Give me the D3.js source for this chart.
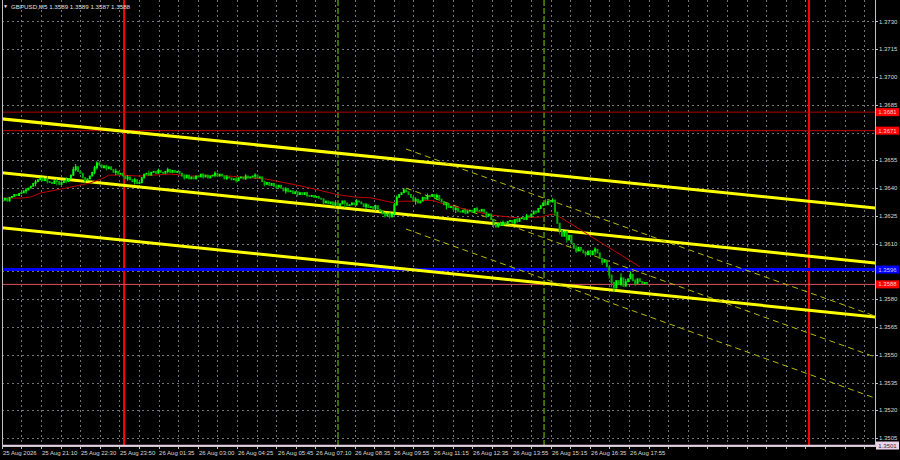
<!DOCTYPE html>
<html><head><meta charset="utf-8">
<script src="https://cdn.jsdelivr.net/npm/d3@7"></script>
<style>html,body{margin:0;padding:0;background:#000;} svg{display:block}</style>
</head><body><svg id="c" width="900" height="460"></svg>
<script>
// ---------------- DATA ----------------
const symbol = "GBPUSD,M5";
const lastOHLC = [1.3589, 1.3589, 1.3587, 1.3588];
const priceTicks = [1.3730,1.3715,1.3700,1.3685,1.3670,1.3655,1.3640,1.3625,1.3610,1.3595,1.3580,1.3565,1.3550,1.3535,1.3520,1.3505];
const timeLabels = ["25 Aug 2026","25 Aug 21:10","25 Aug 22:30","25 Aug 23:50","26 Aug 01:35","26 Aug 03:00","26 Aug 04:25","26 Aug 05:45","26 Aug 07:10","26 Aug 08:35","26 Aug 09:55","26 Aug 11:15","26 Aug 12:35","26 Aug 13:55","26 Aug 15:15","26 Aug 16:35","26 Aug 17:55"];
const timeLabelBars = [0,16.3,32.8,49.3,65.9,82.8,99.3,116.3,132.4,148.9,165.4,182.3,198.9,215.8,232.3,248.9,265.4];
// closes in pips above 1.3500, one per M5 bar
const firstOpen = 133;
const closes = [
133.5,134.5,133,135, 135.5,136.5,136,137, 137.5,138.5,139,140, 141,142.5,143.5,144.5,
145.5,144,145,143.5, 143,142.5,144,143.5,142, 143,144,143.5,145, 147,150,151.5,149,148,
145.5,144,145,146.5, 148.5,151,153.5,152.5, 151,152,150.5,151.5, 150,148.5,149,147.5,148,
146.5,145,146,144.5, 143.5,144.5,142.5,143, 145.5,147.5,148,147,148.5, 149,148,149.5,148.5,
148,149,150,148.5, 149.5,148.5,149,148, 146.5,145.5,147,145, 146,145,146.5,146,
147.5,146,147,145.5,146.5, 147,148,146.5,147.5, 146.5,145,146,145.5, 144.5,145,144,145.5,
146,145,146.5,145.5,146, 146.5,147,145.5,146, 143.5,142,143,141.5, 142.5,141,140.5,141.5,
140,138.5,139.5,138, 138.5,137,138,136.5,137.5, 136.5,137.5,136,135.5, 136,135,135.5,134.5,
134,132,133,131.5, 132.5,131,132,130.5, 131.5,133,132,130.5,131, 132,131,133,132.5,
131.5,130,131,129.5, 130,129,130.5,128.5, 127.5,126,125,126.5,124.5, 126,131,135,136.5,
137.5,139,138,136.5, 135,133,134,132, 133,135,134,136,135.5, 136.5,135,136,134,
132.5,131,131.5,129.5, 130,128.5,129,127.5, 127,128,126.5,127.5, 128,127,129,128,127.5,
128.5,127,125,126, 123,120.5,119,121, 120,121.5,120.5,122, 122.5,121,123,122,123.5,
124,123,125,124.5, 126,127.5,127,129, 130.5,132,131,133, 132.5,133.5,127, 121,117,
114,116.5,112,114.5, 110,107.5,106,108, 106.5,105,104,106, 104,106,107,105,
102,100,101,97.5, 93,89,86,90, 88,91.5,87,89.5, 91,93.5,90,88.5,91, 89.5,88.5,89,88
];
// wicks: [bar, high pips, low pips]
const wicks = [
[10,140,137],[14,144.5,141],[19,146.5,142.5],[23,145,141.5],[27,146,142.5],[30,151.5,146.5],[31,153,149],
[35,146,142.5],[39,152,147.5],[40,154.5,150],[41,154.5,152],[44,152.5,149.5],[48,150.5,147],[53,147,144],
[56,145.5,142],[59,146,142.5],[62,149.5,146.5],[66,150.5,148],[70,151,148],[77,147.5,144.5],[85,148,145],
[90,149,146],[95,147,144.5],[99,146,143],[103,147.5,144.5],[107,148,145],[111,144,141],[116,142,139.5],
[120,140.5,137],[125,138,135.5],[129,138,135],[136,134.5,131],[141,133,129.5],[145,133.5,129.5],[150,134,130.5],
[154,132,128.5],[158,131,127.5],[162,127,124],[164,126.5,123.5],[166,132,125.5],[167,136,130.5],[170,140,137.5],
[175,135,131],[180,137,134],[184,137,133.5],[188,132,128.5],[192,130,126.5],[196,129,126],[201,130,127],
[205,127,124],[208,122,118.5],[212,122.5,119.5],[218,124,121],[222,126,123],[226,128,126],[230,134,130.5],
[233,134.5,132.5],[234,133.5,125],[236,121,115],[239,116,110.5],[243,109,105],[247,106,103],[251,108,104],
[254,101,98.5],[257,95,91],[258,93,86.5],[259,89,84],[262,94,87],[264,91,87.5],[266,95,91],[268,91,87]
];
// moving average: [bar, pips]
const maPoints = [[0,134.6],[8,134.6],[12,135.2],[16,137.3],[25,139.5],[29,140.6],[37,142.7],[42,144.9],[45,147],[50,147],[58,146.5],[71,147.6],[80,146.5],[93,146.8],[112,144.8],[125,141.5],[135,138.6],[142,136.4],[149,135.2],[156,134.7],[166,132],[169,132.9],[173,132.9],[182,133.4],[186,131.7],[194,129.2],[207,125.4],[219,123.8],[228,124.4],[233,126],[236,124.4],[245,117.4],[253,110.9],[262,103.9],[270,97.4]];
// trend lines (thick yellow): [[bar, pips],[bar, pips]]
const trendLines = [[[-2,177.6],[372,128.9]],[[-2,148.5],[372,99.2]],[[-2,118.8],[372,70.1]]];
// regression channel (dashed)
const channelLines = [[[170.9,161.1],[369.6,70.9]],[[170.9,140],[369.6,48.8]],[[170.9,117.9],[369.6,26.6]]];
// horizontal levels
const levelPrices = [1.3681, 1.3671, 1.3596, 1.3588, 1.3501];
const levelColors = ["#b00000","#c80000","#0000ff","#e05060","#e8cce8"];
const levelBoxColors = ["#ff0000","#ff0000","#0000ff","#ff0000","#ecd4ec"];
const levelTextColors = ["#ffd0d0","#ffd0d0","#c8c8ff","#ffd0d0","#303030"];
const levelWidths = [1,1,3,1,1.5];
// vertical lines (bar positions)
const redVBars = [51.5, 341.6];
const greenVBars = [142.1, 229.4];

// ---------------- CHART ----------------
const W = 900, H = 460;
const plot = {l: 2, r: 875, t: 0, b: 446};
const svg = d3.select("#c");
svg.append("rect").attr("width", W).attr("height", H).attr("fill", "#000");

const x = d3.scaleLinear().domain([0, 273]).range([2.5, 647]);
const y = d3.scaleLinear().domain([1.3505, 1.3730]).range([438.1, 21.4]);
const P = v => 1.35 + v / 10000;
const font = "'Liberation Sans', Arial, sans-serif";

svg.append("defs").append("clipPath").attr("id", "clip")
  .append("rect").attr("x", plot.l).attr("y", plot.t).attr("width", plot.r - plot.l).attr("height", plot.b - plot.t);
const g = svg.append("g").attr("clip-path", "url(#clip)");

// grid
const step = (timeLabelBars[timeLabelBars.length-1] - timeLabelBars[1]) / (timeLabelBars.length - 2) / 2;
const gridBars = [];
for (let b = timeLabelBars[1] - 2*step; x(b) < plot.r; b += step) gridBars.push(b);
g.selectAll(".vg").data(gridBars).enter().append("line")
  .attr("x1", d => Math.round(x(d)) + 0.5).attr("x2", d => Math.round(x(d)) + 0.5)
  .attr("y1", plot.t).attr("y2", plot.b)
  .attr("stroke", "#6e7478").attr("stroke-width", 1).attr("stroke-dasharray", "2,3");
g.selectAll(".hg").data(priceTicks).enter().append("line")
  .attr("x1", plot.l).attr("x2", plot.r)
  .attr("y1", d => Math.round(y(d)) + 0.5).attr("y2", d => Math.round(y(d)) + 0.5)
  .attr("stroke", "#6e7478").attr("stroke-width", 1).attr("stroke-dasharray", "2,3");

// vertical lines
g.selectAll(".gv").data(greenVBars).enter().append("line")
  .attr("x1", d => x(d)).attr("x2", d => x(d)).attr("y1", plot.t).attr("y2", plot.b)
  .attr("stroke", "#4a8600").attr("stroke-width", 1.6).attr("stroke-dasharray", "6,2");
g.selectAll(".rv").data(redVBars).enter().append("line")
  .attr("x1", d => x(d)).attr("x2", d => x(d)).attr("y1", plot.t).attr("y2", plot.b)
  .attr("stroke", "#ff0000").attr("stroke-width", 2);

// horizontal levels
levelPrices.forEach((p, i) => {
  g.append("line").attr("x1", plot.l).attr("x2", plot.r).attr("y1", y(p)).attr("y2", y(p))
    .attr("stroke", levelColors[i]).attr("stroke-width", levelWidths[i]);
});

// trend lines
const ln = d3.line().x(d => x(d[0])).y(d => y(P(d[1])));
trendLines.forEach(t => g.append("path").attr("d", ln(t)).attr("stroke", "#ffff00").attr("stroke-width", 3).attr("fill", "none"));
channelLines.forEach(t => g.append("path").attr("d", ln(t)).attr("stroke", "#b8b800").attr("stroke-width", 1).attr("stroke-dasharray", "6,4").attr("fill", "none"));

// MA
g.append("path").attr("d", d3.line().x(d => x(d[0])).y(d => y(P(d[1])))(maPoints))
  .attr("stroke", "#c00000").attr("stroke-width", 1).attr("fill", "none");

// candles
const bars = closes.map((c, i) => ({i, o: i === 0 ? firstOpen : closes[i-1], c}));
const wickMap = new Map(wicks.map(w => [w[0], w]));
bars.forEach(b => {
  const w = wickMap.get(b.i);
  if (w) {
    g.append("line").attr("x1", x(b.i)).attr("x2", x(b.i))
      .attr("y1", y(P(w[1]))).attr("y2", y(P(w[2])))
      .attr("stroke", b.c >= b.o ? "#00ff00" : "#00b000").attr("stroke-width", 1);
  }
});
g.selectAll(".cdl").data(bars).enter().append("rect")
  .attr("x", d => x(d.i) - 1)
  .attr("width", 2)
  .attr("y", d => y(P(Math.max(d.o, d.c))) - 0.5)
  .attr("height", d => Math.abs(y(P(d.o)) - y(P(d.c))) + 1)
  .attr("fill", d => d.c >= d.o ? "#00ff00" : "#00b000");

// frame
svg.append("line").attr("x1", plot.l + 0.5).attr("x2", plot.l + 0.5).attr("y1", plot.t).attr("y2", plot.b).attr("stroke", "#c0c0c0");
svg.append("line").attr("x1", plot.r + 0.5).attr("x2", plot.r + 0.5).attr("y1", plot.t).attr("y2", plot.b + 1).attr("stroke", "#c0c0c0");
svg.append("line").attr("x1", plot.l).attr("x2", plot.r).attr("y1", plot.b + 0.5).attr("y2", plot.b + 0.5).attr("stroke", "#c8c8c8");

// price axis (tick labels hidden under a level box are not drawn)
const ax = svg.append("g");
priceTicks.forEach(p => {
  ax.append("line").attr("x1", plot.r).attr("x2", plot.r + 3).attr("y1", Math.round(y(p)) + 0.5).attr("y2", Math.round(y(p)) + 0.5).attr("stroke", "#c0c0c0");
  const covered = levelPrices.some(lp => Math.abs(y(lp) - y(p)) < 6);
  if (!covered) {
    ax.append("text").attr("x", 879).attr("y", y(p)).attr("dy", "0.35em")
      .attr("fill", "#d8d8d8").attr("font-family", font).attr("font-size", 6)
      .text(p.toFixed(4));
  }
});
levelPrices.forEach((p, i) => {
  const yy = y(p);
  ax.append("rect").attr("x", 876).attr("y", yy - 4).attr("width", 23).attr("height", 8).attr("fill", levelBoxColors[i]);
  ax.append("text").attr("x", 887.5).attr("y", yy).attr("dy", "0.35em").attr("text-anchor", "middle")
    .attr("fill", levelTextColors[i]).attr("font-family", font).attr("font-size", 6)
    .text(p.toFixed(4));
});

// time axis
gridBars.forEach(b => {
  svg.append("line").attr("x1", Math.round(x(b)) + 0.5).attr("x2", Math.round(x(b)) + 0.5)
    .attr("y1", plot.b + 1).attr("y2", plot.b + 3).attr("stroke", "#c0c0c0");
});
timeLabels.forEach((t, i) => {
  svg.append("text").attr("x", x(timeLabelBars[i]) + (i === 0 ? 0.5 : 1)).attr("y", 455)
    .attr("fill", "#d8d8d8").attr("font-family", font).attr("font-size", 6).text(t);
});

// title
svg.append("text").attr("x", 3).attr("y", 8).attr("fill", "#e0e0e0").attr("font-size", 5).attr("font-family", font).text("▼");
svg.append("text").attr("x", 11).attr("y", 8.5).attr("fill", "#e0e0e0").attr("font-family", font).attr("font-size", 6.2)
  .text(symbol + "  " + lastOHLC.map(v => v.toFixed(4)).join(" "));
</script></body></html>
